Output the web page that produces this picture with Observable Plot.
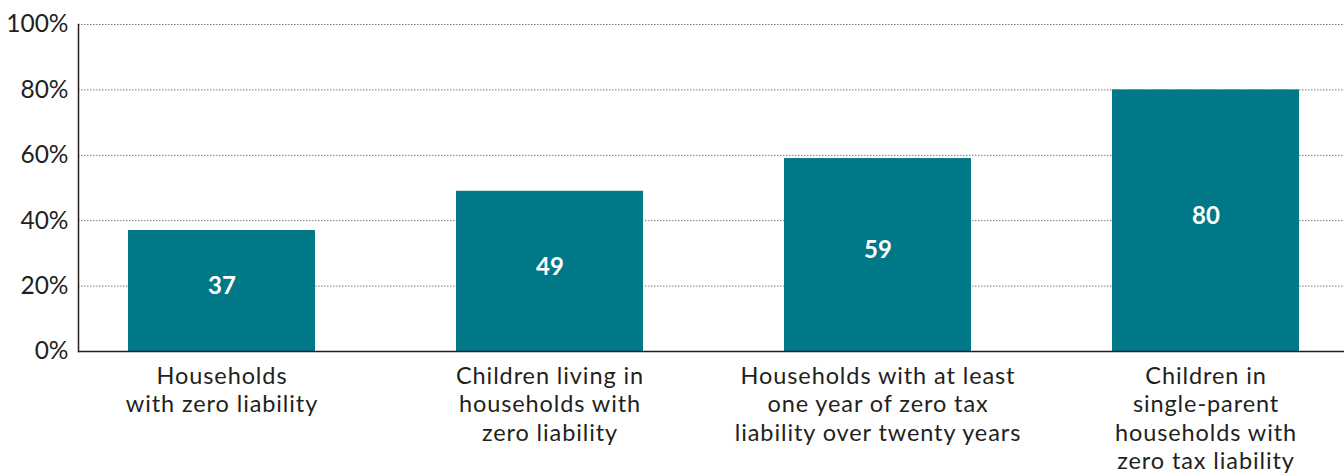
<!DOCTYPE html>
<html>
<head>
<meta charset="utf-8">
<script src="https://cdn.jsdelivr.net/npm/d3@7"></script>
<script src="https://cdn.jsdelivr.net/npm/@observablehq/plot@0.6"></script>
<style>
  html, body { margin: 0; padding: 0; background: #fff; }
  #chart svg { display: block; }
  #chart g[aria-label="x-axis tick label"] { letter-spacing: 0.9px; }
</style>
</head>
<body>
<div id="chart"></div>
<script>
const categories = [
  "Households\nwith zero liability",
  "Children living in\nhouseholds with\nzero liability",
  "Households with at least\none year of zero tax\nliability over twenty years",
  "Children in\nsingle-parent\nhouseholds with\nzero tax liability"
];
const values = [37, 49, 59, 80];
const yTicks = [0, 20, 40, 60, 80, 100];

const data = categories.map((c, i) => ({category: c, value: values[i]}));
const textColor = "#231f20";
const barColor = "#007888";

const chart = Plot.plot({
  width: 1344,
  height: 476,
  marginLeft: 78,
  marginRight: 0,
  marginTop: 24,
  marginBottom: 125,
  style: {fontFamily: "Lato, 'Open Sans', sans-serif", color: textColor, background: "#fff"},
  x: {domain: categories, paddingInner: 0.43, paddingOuter: 0.143, align: 0.53, label: null},
  y: {domain: [0, 100], label: null},
  marks: [
    Plot.gridY(yTicks.filter(d => d > 0), {stroke: "#777", strokeOpacity: 1, strokeDasharray: "1.5,1.5", strokeWidth: 1}),
    Plot.barY(data, {x: "category", y: "value", fill: barColor}),
    Plot.text(data, {x: "category", y: d => d.value / 2, text: d => String(d.value), fill: "#fff", fontWeight: "bold", fontSize: 24, dy: -4.5}),
    Plot.ruleY([0], {stroke: textColor, strokeWidth: 1.5}),
    Plot.frame({anchor: "left", stroke: textColor, strokeWidth: 1.5}),
    Plot.axisY({ticks: yTicks, tickFormat: d => d + "%", tickSize: 0, tickPadding: 10, fontSize: 24.5, fill: textColor, label: null}),
    Plot.axisX({tickSize: 0, tickPadding: 12, fontSize: 23.5, lineHeight: 1.215, fill: textColor, label: null})
  ]
});
document.getElementById("chart").appendChild(chart);
</script>
</body>
</html>
